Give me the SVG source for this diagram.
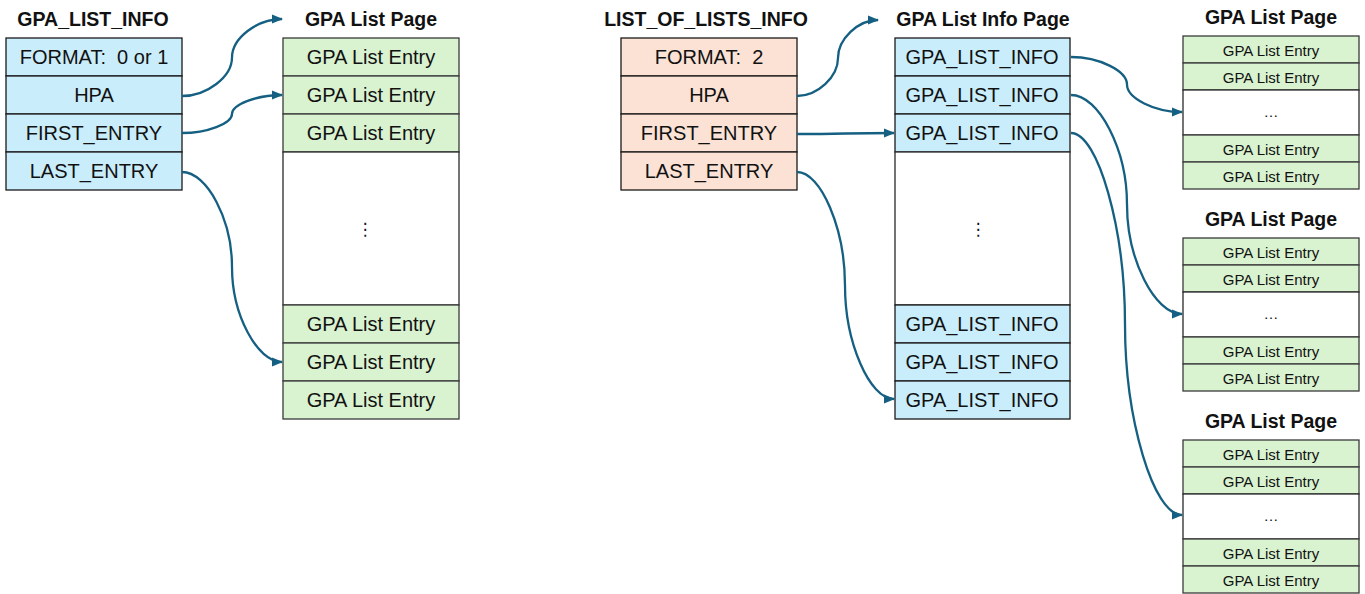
<svg xmlns="http://www.w3.org/2000/svg" width="1365" height="594" viewBox="0 0 1365 594">
<style>
text{font-family:"Liberation Sans",Arial,sans-serif;fill:#111;text-anchor:middle}
.t{font-size:19.5px;font-weight:bold}
.r{font-size:20px}
.s{font-size:15px}
.blue{fill:#CAEDFB;stroke:#1a1a1a;stroke-width:1.3}
.peach{fill:#FBE2D5;stroke:#1a1a1a;stroke-width:1.3}
.green{fill:#D9F2D0;stroke:#3a3a3a;stroke-width:1.3}
.white{fill:#fff;stroke:#2a2a2a;stroke-width:1.3}
.c{fill:none;stroke:#156082;stroke-width:2.3;marker-end:url(#ah)}
</style>
<defs>
<marker id="ah" markerUnits="userSpaceOnUse" markerWidth="12" markerHeight="12" refX="10" refY="6" orient="auto">
<path d="M0,1.5 L11,6 L0,10.5 z" fill="#156082"/>
</marker>
<g id="rp">
<rect class="green" x="0" y="0" width="176" height="27"/>
<rect class="green" x="0" y="27" width="176" height="27"/>
<rect class="white" x="0" y="54" width="176" height="45"/>
<rect class="green" x="0" y="99" width="176" height="27"/>
<rect class="green" x="0" y="126" width="176" height="27"/>
<text class="s" x="88" y="20">GPA List Entry</text>
<text class="s" x="88" y="47">GPA List Entry</text>
<text class="s" x="88" y="81">…</text>
<text class="s" x="88" y="119">GPA List Entry</text>
<text class="s" x="88" y="146">GPA List Entry</text>
</g>
</defs>
<rect width="1365" height="594" fill="#fff"/>

<g id="gpa_list_info">
<text class="t" x="93" y="26">GPA_LIST_INFO</text>
<rect class="blue" x="6" y="38" width="176" height="38"/>
<rect class="blue" x="6" y="76" width="176" height="38"/>
<rect class="blue" x="6" y="114" width="176" height="38"/>
<rect class="blue" x="6" y="152" width="176" height="38"/>
<text class="r" x="94" y="64" xml:space="preserve">FORMAT:  0 or 1</text>
<text class="r" x="94" y="102">HPA</text>
<text class="r" x="94" y="140">FIRST_ENTRY</text>
<text class="r" x="94" y="178">LAST_ENTRY</text>
</g>

<g id="gpa_list_page_left">
<text class="t" x="371" y="26">GPA List Page</text>
<rect class="green" x="283" y="38" width="176" height="38"/>
<rect class="green" x="283" y="76" width="176" height="38"/>
<rect class="green" x="283" y="114" width="176" height="38"/>
<rect class="white" x="283" y="152" width="176" height="153"/>
<rect class="green" x="283" y="305" width="176" height="38"/>
<rect class="green" x="283" y="343" width="176" height="38"/>
<rect class="green" x="283" y="381" width="176" height="38"/>
<text class="r" x="371" y="64">GPA List Entry</text>
<text class="r" x="371" y="102">GPA List Entry</text>
<text class="r" x="371" y="140">GPA List Entry</text>
<text x="365" y="235" style="font-family:'DejaVu Sans',sans-serif;font-size:17px">⋮</text>
<text class="r" x="371" y="331">GPA List Entry</text>
<text class="r" x="371" y="369">GPA List Entry</text>
<text class="r" x="371" y="407">GPA List Entry</text>
</g>

<g id="list_of_lists_info">
<text class="t" x="706" y="26">LIST_OF_LISTS_INFO</text>
<rect class="peach" x="621" y="38" width="176" height="38"/>
<rect class="peach" x="621" y="76" width="176" height="38"/>
<rect class="peach" x="621" y="114" width="176" height="38"/>
<rect class="peach" x="621" y="152" width="176" height="38"/>
<text class="r" x="709" y="64" xml:space="preserve">FORMAT:  2</text>
<text class="r" x="709" y="102">HPA</text>
<text class="r" x="709" y="140">FIRST_ENTRY</text>
<text class="r" x="709" y="178">LAST_ENTRY</text>
</g>

<g id="gpa_list_info_page">
<text class="t" x="983" y="26">GPA List Info Page</text>
<rect class="blue" x="895" y="38" width="175" height="38"/>
<rect class="blue" x="895" y="76" width="175" height="38"/>
<rect class="blue" x="895" y="114" width="175" height="38"/>
<rect class="white" x="895" y="152" width="175" height="153"/>
<rect class="blue" x="895" y="305" width="175" height="38"/>
<rect class="blue" x="895" y="343" width="175" height="38"/>
<rect class="blue" x="895" y="381" width="175" height="38"/>
<text class="r" x="982" y="64">GPA_LIST_INFO</text>
<text class="r" x="982" y="102">GPA_LIST_INFO</text>
<text class="r" x="982" y="140">GPA_LIST_INFO</text>
<text x="978" y="235" style="font-family:'DejaVu Sans',sans-serif;font-size:17px">⋮</text>
<text class="r" x="982" y="331">GPA_LIST_INFO</text>
<text class="r" x="982" y="369">GPA_LIST_INFO</text>
<text class="r" x="982" y="407">GPA_LIST_INFO</text>
</g>

<g id="gpa_list_page_1">
<text class="t" x="1271" y="24">GPA List Page</text>
<use href="#rp" x="1183" y="36"/>
</g>
<g id="gpa_list_page_2">
<text class="t" x="1271" y="226">GPA List Page</text>
<use href="#rp" x="1183" y="238"/>
</g>
<g id="gpa_list_page_3">
<text class="t" x="1271" y="428">GPA List Page</text>
<use href="#rp" x="1183" y="440"/>
</g>

<g id="connectors">
<path class="c" d="M182,96 C207,96 232,76.75 232,57.5 C232,38.25 257,19 282,19"/>
<path class="c" d="M182,133 C207,133 232,123.5 232,114 C232,104.5 257,95 282,95"/>
<path class="c" d="M182,172 C207,172 232,219.5 232,267 C232,314.5 257,362 282,362"/>
<path class="c" d="M797,96 C817.5,96 838,77 838,58 C838,39 858,20 878,20"/>
<path class="c" d="M797,134 C845,134 846,133 894,133"/>
<path class="c" d="M797,172 C821,172 845,228.75 845,285.5 C845,342.25 869.5,399 894,399"/>
<path class="c" d="M1071,57 C1099,57 1127,70.75 1127,84.5 C1127,98.25 1154.5,112 1182,112"/>
<path class="c" d="M1071,95 C1099,95 1127,149.75 1127,204.5 C1127,259.25 1154.5,314 1182,314"/>
<path class="c" d="M1071,133 C1098,133 1125,228.5 1125,324 C1125,419.5 1153.5,515 1182,515"/>
</g>
</svg>
